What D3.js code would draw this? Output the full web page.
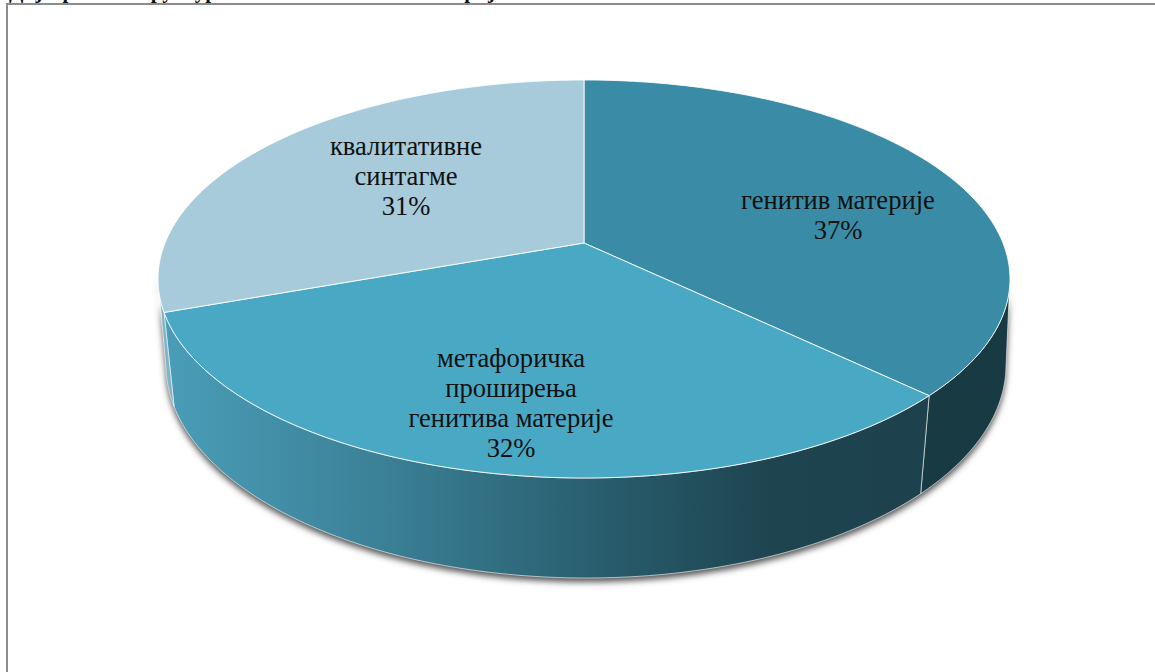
<!DOCTYPE html>
<html>
<head>
<meta charset="utf-8"/>
<title>Pie</title>
<script src="https://cdn.jsdelivr.net/npm/d3@7"></script>
<style>
    html, body {
        margin: 0;
        background: #fff;
        overflow: hidden;
    }

    text {
        font-family: "Liberation Serif", serif;
        fill: #111;
    }
</style>
</head>
<body>
<svg id="chart" width="1155" height="672"></svg>
<script>
    "use strict";

    const categories = ["генитив материје", "метафоричка проширења генитива материје", "квалитативне синтагме"];
    const values = [37.2, 32.3, 30.5];
    const labelLines = [
        ["генитив материје"],
        ["метафоричка", "проширења", "генитива материје"],
        ["квалитативне", "синтагме"]
    ];
    const topColors = ["#3a8ba6", "#49a9c5", "#a7cbdb"];
    const titleText = "Дијаграм 3. Структура синтагми генитива материје";

    const svg = d3.select("#chart");
    const defs = svg.append("defs");

    defs.append("filter").attr("id", "blur")
        .attr("x", "-5%").attr("y", "-5%").attr("width", "110%").attr("height", "110%")
        .append("feGaussianBlur").attr("stdDeviation", 3);

    const sideGrad = defs.append("linearGradient").attr("id", "sideGrad")
        .attr("gradientUnits", "userSpaceOnUse")
        .attr("x1", 165).attr("x2", 925).attr("y1", 0).attr("y2", 0);
    sideGrad.append("stop").attr("offset", 0).attr("stop-color", "#4a9db8");
    sideGrad.append("stop").attr("offset", 0.3).attr("stop-color", "#3a7f95");
    sideGrad.append("stop").attr("offset", 0.6).attr("stop-color", "#275a6a");
    sideGrad.append("stop").attr("offset", 0.8).attr("stop-color", "#1e444f");
    sideGrad.append("stop").attr("offset", 1).attr("stop-color", "#1d424d");

    // top and bottom rims, tilted so the pie centre sits above the ellipse centre
    const topRim = {cx: 584, cy: 279, rx: 426, ry: 199, tilt: 0.181};
    const bottomRim = {cx: 586, cy: 365, rx: 420, ry: 213, tilt: 0.154};

    const project = function (rim, a)
    {
        const u = Math.sin(a), v = -Math.cos(a);
        const w = 1 - rim.tilt * v;
        return [
            rim.cx + rim.rx * u * Math.sqrt(1 - rim.tilt * rim.tilt) / w,
            rim.cy + rim.ry * (v - rim.tilt) / w
        ];
    };

    const arcPoints = function (rim, a0, a1)
    {
        return d3.range(0, 121).map(function (i)
        {
            return project(rim, a0 + (a1 - a0) * i / 120);
        });
    };

    const line = d3.line();
    const pie = d3.pie().sort(null)(values);

    // frame
    svg.append("rect")
        .attr("x", 7).attr("y", 4).attr("width", 1160).attr("height", 680)
        .attr("fill", "#fff").attr("stroke", "#8c8c8c").attr("stroke-width", 2);

    // title, cut off by the top of the picture
    svg.append("text")
        .attr("x", 9).attr("y", -2)
        .attr("font-size", 21).attr("font-weight", "bold")
        .text(titleText);

    // shadow under the walls
    const wallStart = Math.PI * 0.555;
    const wallEnd = Math.PI * 1.445;
    const outline = arcPoints(topRim, wallStart, wallEnd)
        .concat(arcPoints(bottomRim, wallEnd, wallStart));
    svg.append("path")
        .attr("d", line(outline) + "Z")
        .attr("transform", "translate(0,4)")
        .attr("fill", "#555")
        .attr("filter", "url(#blur)");

    // walls
    const walls = [
        {a0: wallStart, a1: pie[0].endAngle, fill: "#173a43"},
        {a0: pie[1].startAngle, a1: pie[1].endAngle, fill: "url(#sideGrad)"},
        {a0: pie[2].startAngle, a1: wallEnd, fill: "#7fb4c6"}
    ];
    svg.append("g").selectAll("path")
        .data(walls)
        .enter()
        .append("path")
        .attr("d", function (d)
        {
            return line(arcPoints(topRim, d.a0, d.a1).concat(arcPoints(bottomRim, d.a1, d.a0))) + "Z";
        })
        .attr("fill", function (d) { return d.fill; })
        .attr("stroke", "#fff")
        .attr("stroke-opacity", 0.6)
        .attr("stroke-width", 1);

    // top surface
    svg.append("g").selectAll("path")
        .data(pie)
        .enter()
        .append("path")
        .attr("d", function (d)
        {
            const centre = [topRim.cx, 243];
            return line([centre].concat(arcPoints(topRim, d.startAngle, d.endAngle))) + "Z";
        })
        .attr("fill", function (d, i) { return topColors[i]; })
        .attr("stroke", "#fff")
        .attr("stroke-opacity", 0.85)
        .attr("stroke-width", 1);

    // labels
    const labelPos = [[838, 209], [511, 367], [406, 155]];
    const labels = svg.append("g").selectAll("text")
        .data(pie)
        .enter()
        .append("text")
        .attr("text-anchor", "middle")
        .attr("font-size", 26.6);
    labels.each(function (d, i)
    {
        const lines = labelLines[i].concat([Math.round(values[i]) + "%"]);
        d3.select(this).selectAll("tspan")
            .data(lines)
            .enter()
            .append("tspan")
            .attr("x", labelPos[i][0])
            .attr("y", function (t, j) { return labelPos[i][1] + j * 30; })
            .text(function (t) { return t; });
    });
</script>
</body>
</html>
